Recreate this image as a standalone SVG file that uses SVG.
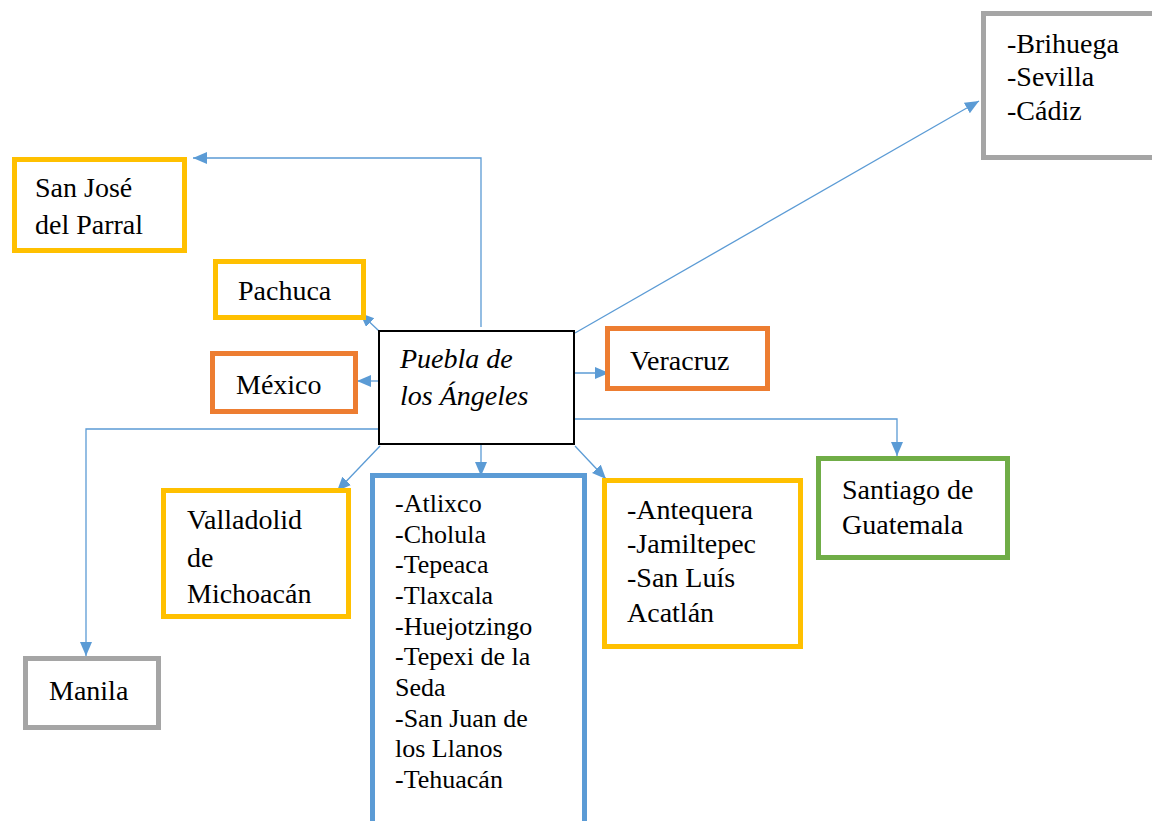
<svg xmlns="http://www.w3.org/2000/svg" width="1152" height="821" viewBox="0 0 1152 821">
<style>
.box{fill:#fff;stroke-width:5}
.y{stroke:#FFC000}.o{stroke:#ED7D31}.g{stroke:#A5A5A5}.gr{stroke:#70AD47}.b{stroke:#5B9BD5}
.t{font-size:28px;fill:#000}
.s{font-size:26px}
.c{fill:none;stroke:#5B9BD5;stroke-width:1.3;marker-end:url(#ah)}
</style>
<defs>
<marker id="ah" markerUnits="userSpaceOnUse" markerWidth="15" markerHeight="13" refX="14" refY="6" orient="auto">
<path d="M0,0 L14,6 L0,12 z" fill="#5B9BD5"/>
</marker>
</defs>
<rect width="1152" height="821" fill="#fff"/>
<g id="connectors">
<path class="c" d="M575,333 L979,101"/>
<path class="c" d="M481,327 L481,158 L193,158"/>
<path class="c" d="M379,331 L360,313"/>
<path class="c" d="M379,381 L357,381"/>
<path class="c" d="M574,373 L609,373"/>
<path class="c" d="M574,419 L897,419 L897,456"/>
<path class="c" d="M575,446 L606,479"/>
<path class="c" d="M481,444 L481,476"/>
<path class="c" d="M380,446 L337,491"/>
<path class="c" d="M379,429 L86,429 L86,656"/>
</g>
<g font-family="'Liberation Serif', 'DejaVu Serif', serif">
<g id="puebla">
<rect x="379" y="331" width="195" height="113" fill="#fff" stroke="#000" stroke-width="2"/>
<text class="t" font-style="italic" x="400" y="368">Puebla de</text>
<text class="t" font-style="italic" x="400" y="405">los Ángeles</text>
</g>
<g id="brihuega">
<rect class="box g" x="983.5" y="13.5" width="180" height="144"/>
<text class="t" x="1007" y="53">-Brihuega</text>
<text class="t" x="1007" y="86">-Sevilla</text>
<text class="t" x="1007" y="120">-Cádiz</text>
</g>
<g id="sanjose">
<rect class="box y" x="14.5" y="159.5" width="170" height="91"/>
<text class="t" x="35" y="197">San José</text>
<text class="t" x="35" y="234">del Parral</text>
</g>
<g id="pachuca">
<rect class="box y" x="215.5" y="261.5" width="148" height="56"/>
<text class="t" x="238" y="300">Pachuca</text>
</g>
<g id="mexico">
<rect class="box o" x="212.5" y="353.5" width="143" height="58"/>
<text class="t" x="236" y="394">México</text>
</g>
<g id="veracruz">
<rect class="box o" x="607.5" y="328.5" width="160" height="60"/>
<text class="t" x="630" y="370">Veracruz</text>
</g>
<g id="santiago">
<rect class="box gr" x="818.5" y="458.5" width="189" height="99"/>
<text class="t" x="842" y="499">Santiago de</text>
<text class="t" x="842" y="534">Guatemala</text>
</g>
<g id="antequera">
<rect class="box y" x="604.5" y="480.5" width="196" height="166"/>
<text class="t" x="627" y="519">-Antequera</text>
<text class="t" x="627" y="553">-Jamiltepec</text>
<text class="t" x="627" y="587">-San Luís</text>
<text class="t" x="627" y="622">Acatlán</text>
</g>
<g id="atlixco">
<rect class="box b" x="372.5" y="475.5" width="212" height="360"/>
<text class="t s" x="395" y="512">-Atlixco</text>
<text class="t s" x="395" y="543">-Cholula</text>
<text class="t s" x="395" y="573">-Tepeaca</text>
<text class="t s" x="395" y="604">-Tlaxcala</text>
<text class="t s" x="395" y="635">-Huejotzingo</text>
<text class="t s" x="395" y="665">-Tepexi de la</text>
<text class="t s" x="395" y="696">Seda</text>
<text class="t s" x="395" y="727">-San Juan de</text>
<text class="t s" x="395" y="757">los Llanos</text>
<text class="t s" x="395" y="788">-Tehuacán</text>
</g>
<g id="valladolid">
<rect class="box y" x="163.5" y="490.5" width="185" height="126"/>
<text class="t" x="187" y="529">Valladolid</text>
<text class="t" x="187" y="567">de</text>
<text class="t" x="187" y="603">Michoacán</text>
</g>
<g id="manila">
<rect class="box g" x="25.5" y="658.5" width="133" height="69"/>
<text class="t" x="49" y="700">Manila</text>
</g>
</g>
</svg>
